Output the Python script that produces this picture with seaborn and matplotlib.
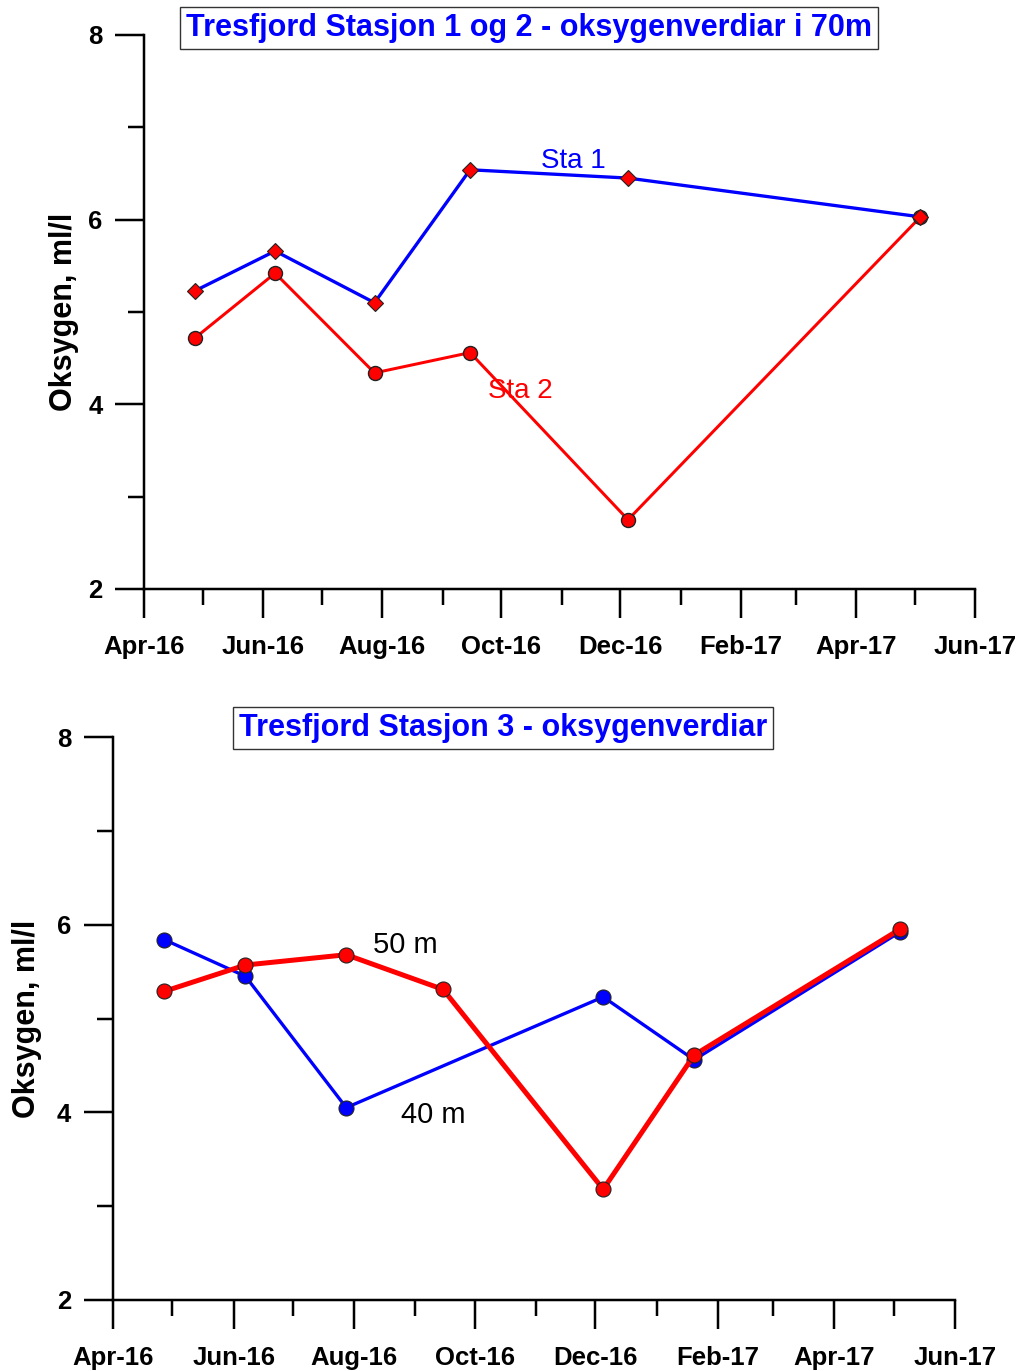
import matplotlib
matplotlib.use("Agg")
import matplotlib.pyplot as plt
import matplotlib.dates as mdates
import seaborn as sns
import pandas as pd

# ---- data ----
sta_dates = ["2016-04-27", "2016-06-07", "2016-07-28", "2016-09-15", "2016-12-05", "2017-05-04"]
sta1_values = [5.23, 5.66, 5.10, 6.54, 6.45, 6.03]
sta2_values = [4.72, 5.42, 4.34, 4.56, 2.75, 6.03]

m40_dates = ["2016-04-27", "2016-06-07", "2016-07-28", "2016-12-05", "2017-01-20", "2017-05-04"]
m40_values = [5.84, 5.45, 4.05, 5.23, 4.56, 5.92]
m50_dates = ["2016-04-27", "2016-06-07", "2016-07-28", "2016-09-15", "2016-12-05", "2017-01-20", "2017-05-04"]
m50_values = [5.29, 5.57, 5.68, 5.31, 3.18, 4.61, 5.95]

title_top = "Tresfjord Stasjon 1 og 2 - oksygenverdiar i 70m"
title_bottom = "Tresfjord Stasjon 3 - oksygenverdiar"
ylabel = "Oksygen, ml/l"

sns.set_theme(style="white")
plt.rcParams['font.family'] = ['Liberation Sans', 'DejaVu Sans']

PX = 72 / 100  # points per pixel at dpi 100

fig = plt.figure(figsize=(10.21, 13.71), dpi=100)
ax1 = fig.add_axes([0.1415, 0.5704, 0.8135, 0.4041])
ax2 = fig.add_axes([0.1107, 0.0518, 0.8247, 0.4106])

d_sta = pd.to_datetime(sta_dates)
d40 = pd.to_datetime(m40_dates)
d50 = pd.to_datetime(m50_dates)

# top chart
sns.lineplot(x=d_sta, y=sta2_values, ax=ax1, color="#ff0000", lw=3 * PX,
             marker="o", markersize=14 * PX, markerfacecolor="#ff0000",
             markeredgecolor="#222222", markeredgewidth=1.0, zorder=3)
sns.lineplot(x=d_sta, y=sta1_values, ax=ax1, color="#0000ff", lw=3.3 * PX,
             marker="D", markersize=11 * PX, markerfacecolor="#ff0000",
             markeredgecolor="#222222", markeredgewidth=0.8, zorder=4)

# bottom chart
sns.lineplot(x=d40, y=m40_values, ax=ax2, color="#0000ff", lw=3.3 * PX,
             marker="o", markersize=15 * PX, markerfacecolor="#0000ff",
             markeredgecolor="#222222", markeredgewidth=0.8, zorder=3)
sns.lineplot(x=d50, y=m50_values, ax=ax2, color="#ff0000", lw=5 * PX,
             marker="o", markersize=15 * PX, markerfacecolor="#ff0000",
             markeredgecolor="#222222", markeredgewidth=0.8, zorder=4)

for ax in (ax1, ax2):
    ax.set_xlim(pd.Timestamp("2016-04-01"), pd.Timestamp("2017-06-01"))
    ax.set_ylim(2, 8)
    ax.spines['top'].set_visible(False)
    ax.spines['right'].set_visible(False)
    for s in ('left', 'bottom'):
        ax.spines[s].set_color('black')
        ax.spines[s].set_linewidth(2.5 * PX)
    ax.xaxis.set_major_locator(mdates.MonthLocator(bymonth=[2, 4, 6, 8, 10, 12]))
    ax.xaxis.set_minor_locator(mdates.MonthLocator())
    ax.xaxis.set_major_formatter(mdates.DateFormatter("%b-%y"))
    ax.set_yticks([2, 4, 6, 8])
    ax.set_yticks([3, 5, 7], minor=True)
    ax.tick_params(axis='both', which='both', bottom=True, left=True, top=False, right=False)
    ax.tick_params(axis='both', which='major', direction='out', length=29 * PX, width=2.5 * PX,
                   color='black', labelsize=18.5)
    ax.tick_params(axis='both', which='minor', direction='out', length=16 * PX, width=2.5 * PX,
                   color='black')
    ax.tick_params(axis='x', which='major', pad=17 * PX)
    ax.tick_params(axis='y', which='major', pad=13 * PX)
    for lab in ax.get_xticklabels() + ax.get_yticklabels():
        lab.set_fontweight('bold')
        lab.set_color('black')
    ax.set_xlabel("")
    ax.set_ylabel(ylabel, fontsize=22, fontweight='bold', color='black')
    ax.grid(False)

ax1.yaxis.set_label_coords(-0.079, 0.5)
ax2.yaxis.set_label_coords(-0.084, 0.5)

# titles
fig.text(529 / 1021, 1 - 28 / 1371, title_top, ha='center', va='center',
         fontsize=22, fontweight='bold', color='#0000ff',
         bbox=dict(boxstyle='square,pad=0.2', facecolor='white', edgecolor='#333333', lw=1))
fig.text(503 / 1021, 1 - 728 / 1371, title_bottom, ha='center', va='center',
         fontsize=22, fontweight='bold', color='#0000ff',
         bbox=dict(boxstyle='square,pad=0.2', facecolor='white', edgecolor='#333333', lw=1))

# annotations
ax1.text(pd.Timestamp("2016-11-07"), 6.64, "Sta 1", color='#0000ff', fontsize=20,
         ha='center', va='center')
ax1.text(pd.Timestamp("2016-10-11"), 4.14, "Sta 2", color='#ff0000', fontsize=20,
         ha='center', va='center', zorder=5)
ax2.text(pd.Timestamp("2016-08-27"), 5.78, "50 m", color='black', fontsize=21,
         ha='center', va='center')
ax2.text(pd.Timestamp("2016-09-10"), 3.97, "40 m", color='black', fontsize=21,
         ha='center', va='center')

fig.savefig("out.png", dpi=100, facecolor='white')
